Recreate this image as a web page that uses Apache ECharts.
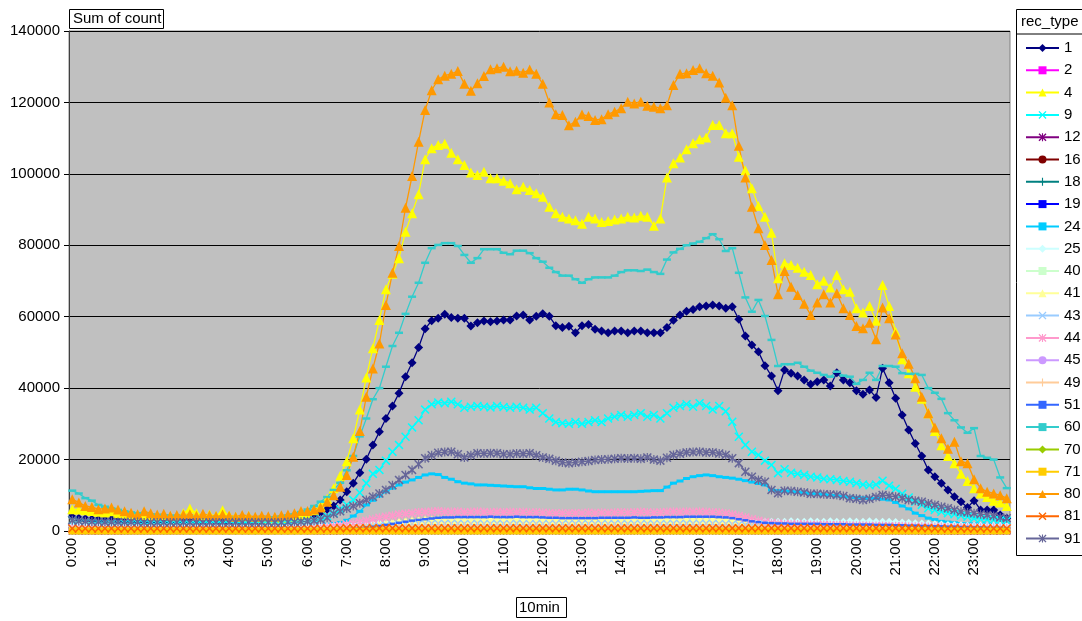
<!DOCTYPE html>
<html>
<head>
<meta charset="utf-8">
<script src="https://cdn.jsdelivr.net/npm/echarts@6/dist/echarts.min.js"></script>
<style>
  html, body { margin: 0; padding: 0; background: #ffffff; }
  #chart { width: 1082px; height: 621px; }
</style>
</head>
<body>
<div id="chart"></div>
<script>
// 10-minute buckets over one day, labelled H:MM
const categories = [];
for (let h = 0; h < 24; h++) {
  for (let m = 0; m < 60; m += 10) categories.push(h + ':' + (m < 10 ? '0' : '') + m);
}

const yTicks = [0, 20000, 40000, 60000, 80000, 100000, 120000, 140000];

const recTypes = ['1','2','4','9','12','16','18','19','24','25','40','41','43','44','45','49','51','60','70','71','80','81','91'];

// Sum of count per rec_type, one row per hour (6 buckets each)
const s1 = [
4000,3600,3400,3300,3200,3200,
3300,3100,3000,3000,2900,2900,
2800,2800,2800,2700,2700,2700,
2700,2600,2600,2600,2600,2500,
2500,2500,2500,2500,2600,2600,
2700,2800,3000,3300,3700,4100,
4500,4500,5100,6100,7000,8700,
11000,13400,16300,20100,24100,27800,
31500,35000,38600,43200,47100,51400,
56600,58900,59600,60700,59800,59600,
59600,57400,58300,58800,58600,58800,
59100,59100,60200,60500,59100,60100,
60800,60100,57500,57000,57300,55500,
57500,57800,56500,56000,55500,56000,
56000,55500,56000,56000,55500,55500,
55500,57000,59000,60500,61500,62000,
62800,63000,63300,63000,62400,62800,
59300,54600,52100,50200,46300,43400,
39300,45100,44200,43400,42300,41100,
41800,42300,40600,44300,42300,41500,
39300,38300,39500,37400,45600,41500,
37200,32500,28300,24500,21000,17100,
15200,13400,11500,9600,8200,6600,
8500,5900,5900,5900,4500,3600];

const s2 = [
100,100,0,0,0,0, 0,0,0,0,0,0, 0,0,0,0,0,0, 0,0,0,0,0,0,
0,0,0,0,0,0, 0,0,0,0,0,0, 0,0,0,100,100,100, 100,100,200,200,200,200,
200,200,200,200,200,200, 200,200,200,200,200,200, 200,200,200,200,200,200, 200,200,200,200,200,200,
200,200,200,200,200,200, 200,200,200,200,200,200, 200,200,200,200,200,200, 200,200,200,200,200,200,
200,200,200,200,200,100, 100,100,100,100,100,100, 100,100,100,100,100,100, 100,100,100,100,100,100,
100,100,100,100,100,100, 100,100,100,100,100,100, 100,100,100,0,0,0, 0,0,0,0,0,0];

const s4 = [
6100,6000,5800,5600,5400,5200,
5500,5000,4800,4600,4500,4400,
4300,4200,4400,4100,4000,5000,
6300,5000,4300,4600,4200,5800,
4300,4000,3900,4200,3800,3700,
3600,3800,3700,4000,4200,4600,
5000,5800,7000,9000,12000,15500,
19500,26000,34000,43000,51200,59100,
67700,72000,76400,83800,89000,94300,
104100,107200,108100,108400,105900,104100,
102500,100400,99700,100600,98800,98800,
98100,97400,95700,96400,95500,94600,
93600,90800,89000,88000,87500,87000,
86000,88000,87500,86500,86800,87200,
87500,88000,87800,88300,88000,85500,
87500,99000,103000,104600,106900,108600,
109700,110200,113700,113700,111400,111400,
104800,101000,96000,91000,88000,83500,
70800,75000,74500,73700,72600,71700,
69100,70100,68200,71700,67700,67000,
62400,61200,63000,58900,68900,63000,
55800,48100,44200,40400,37000,33000,
28000,24000,21000,19000,16000,14000,
12000,10500,9500,8500,8000,7000];

const s9 = [
3000,2800,2600,2500,2400,2400,
2300,2300,2200,2200,2100,2100,
2000,2000,2000,1900,1900,1900,
1900,1800,1800,1800,1800,1800,
1800,1700,1700,1700,1800,1800,
1800,1900,2000,2100,2300,2500,
2800,3100,3500,4200,5000,6100,
7300,8700,10700,13400,16000,17100,
19700,22200,24100,26400,29000,31000,
34000,35500,36000,35800,36200,35500,
34500,34800,35000,34800,34600,35000,
34700,34500,34800,34500,34000,34500,
33000,31500,30500,30200,30000,30500,
30000,30500,31000,30500,31500,32000,
32500,32000,32500,33000,32000,32500,
31500,33000,34500,35000,35500,34800,
35800,35000,34000,35000,33500,30600,
26400,24100,22200,21300,19700,18500,
16200,17300,16300,16000,15700,15200,
15000,14600,14500,14300,14000,13800,
13400,13000,12800,13000,14100,12700,
11800,10400,9400,8200,7300,6400,
5900,5400,5000,4700,4300,4000,
3500,3300,3200,3100,3000,2900];

const s12 = [
0,0,0,0,0,0, 0,0,0,0,0,0, 0,0,0,0,0,0, 0,0,0,0,0,0,
0,0,0,0,0,0, 0,0,0,0,0,0, 0,0,0,0,0,100, 100,100,100,100,100,100,
100,100,100,100,100,100, 100,100,100,100,100,100, 100,100,100,100,100,100, 100,100,100,100,100,100,
100,100,100,100,100,100, 100,100,100,100,100,100, 100,100,100,100,100,100, 100,100,100,100,100,100,
100,100,100,100,100,100, 100,100,100,100,100,100, 100,100,100,100,100,100, 100,100,100,100,100,100,
100,100,100,100,100,100, 100,100,100,100,0,0, 0,0,0,0,0,0, 0,0,0,0,0,0];

const s16 = [
100,100,100,100,100,100, 100,100,100,100,100,100, 100,100,100,100,100,100, 100,100,100,100,100,100,
100,100,100,100,100,100, 100,100,100,100,100,100, 100,100,100,100,100,200, 200,200,200,200,200,200,
300,300,300,300,300,300, 300,300,300,300,300,300, 300,300,300,300,300,300, 300,300,300,300,300,300,
300,300,300,300,300,300, 300,300,300,300,300,300, 300,300,300,300,300,300, 300,300,300,300,300,300,
300,300,300,300,300,300, 300,300,300,300,300,300, 200,200,200,200,200,200, 200,200,200,200,200,200,
200,200,200,200,200,200, 200,200,200,200,200,200, 100,100,100,100,100,100, 100,100,100,100,100,100];

const s18 = [
200,200,200,200,200,200, 200,200,200,200,200,200, 200,200,200,200,200,200, 200,200,200,200,200,200,
200,200,200,200,200,200, 200,200,200,200,200,200, 200,200,200,200,200,300, 300,300,300,300,300,300,
300,300,300,300,300,300, 400,400,400,400,400,400, 400,400,400,400,400,400, 400,400,400,400,400,400,
400,400,400,400,400,400, 400,400,400,400,400,400, 400,400,400,400,400,400, 400,400,400,400,400,400,
400,400,400,400,400,400, 400,400,400,400,400,400, 300,300,300,300,300,300, 300,300,300,300,300,300,
300,300,300,300,300,300, 300,300,300,300,300,300, 200,200,200,200,200,200, 200,200,200,200,200,200];

const s19 = [
200,200,200,200,200,200, 200,200,200,200,200,200, 200,200,200,200,200,200, 200,200,200,200,200,200,
200,200,200,200,200,200, 200,200,200,200,200,200, 200,200,200,200,200,300, 300,300,400,400,400,400,
500,500,500,500,500,500, 500,500,500,500,500,500, 500,500,500,500,500,500, 500,500,500,500,500,500,
500,500,500,500,500,500, 500,500,500,500,500,500, 500,500,500,500,500,500, 500,500,500,500,500,500,
500,500,500,500,500,500, 500,500,500,500,500,400, 400,400,400,400,400,400, 400,400,400,400,400,400,
400,400,400,400,400,400, 300,300,300,300,300,300, 300,300,300,300,300,300, 300,300,300,300,300,200];

const s24 = [
1800,1800,1700,1700,1700,1600,
1600,1600,1600,1500,1500,1500,
1500,1500,1500,1400,1400,1400,
1400,1400,1400,1400,1400,1400,
1400,1400,1400,1400,1400,1400,
1400,1400,1400,1400,1500,1500,
1500,1600,1700,1900,2100,2400,
3000,4200,5500,7300,8600,9800,
11000,12000,12900,13700,14300,15000,
15700,16000,15800,15000,14500,13800,
13400,13200,12900,12900,12800,12700,
12600,12500,12400,12400,12100,11900,
11900,11700,11500,11500,11700,11700,
11500,11200,11000,11000,11000,11000,
11000,11000,11000,11100,11200,11300,
11300,12300,13400,14000,14700,15200,
15500,15700,15500,15200,15000,14800,
14500,14100,13700,13300,12900,11500,
11300,11200,11000,10900,10700,10500,
10400,10200,10000,9800,9600,9500,
9400,9300,9200,9100,8900,8700,
8000,7000,6200,5000,4300,3600,
3200,2700,2500,2300,2100,2000,
2000,1900,1900,1800,1800,1700];

const s25 = [
1400,1400,1400,1400,1300,1300, 1300,1300,1300,1300,1300,1300, 1300,1200,1200,1200,1200,1200, 1200,1200,1200,1200,1200,1200,
1200,1200,1200,1200,1200,1200, 1200,1200,1200,1200,1200,1200, 1200,1200,1300,1300,1400,1500, 1600,1700,1800,1900,2000,2100,
2200,2200,2300,2300,2400,2400, 2400,2400,2500,2400,2400,2500, 2400,2400,2500,2400,2400,2500, 2400,2400,2500,2400,2400,2500,
2400,2400,2400,2400,2400,2400, 2400,2400,2400,2400,2400,2400, 2400,2400,2500,2400,2400,2500, 2500,2500,2500,2500,2500,2500,
2500,2500,2500,2500,2500,2500, 2500,2500,2500,2600,2600,2600, 2600,2600,2700,2600,2600,2700, 2600,2600,2700,2600,2600,2700,
2600,2600,2700,2600,2600,2600, 2500,2400,2300,2200,2100,2000, 1900,1800,1700,1600,1600,1500, 1500,1500,1400,1400,1400,1400];

const s40 = [
100,100,100,100,100,100, 100,100,100,100,100,100, 100,100,100,100,100,100, 100,100,100,100,100,100,
100,100,100,100,100,100, 100,100,100,100,100,100, 100,100,100,200,200,200, 300,300,400,400,500,500,
600,600,700,700,800,800, 800,800,800,800,800,800, 800,800,800,800,800,800, 800,800,800,800,800,800,
800,800,800,800,800,800, 800,800,800,800,800,800, 800,800,800,800,800,800, 800,800,800,800,800,800,
800,800,800,800,800,800, 700,700,700,600,600,600, 500,500,500,500,500,500, 500,500,500,500,500,500,
500,500,500,500,500,500, 400,400,400,400,400,400, 300,300,300,300,300,300, 200,200,200,200,200,200];

const s41 = [
500,450,450,400,400,400, 400,400,400,350,350,350, 350,350,350,350,350,350, 300,300,300,300,300,300,
300,300,300,300,300,300, 300,300,300,300,300,300, 300,350,400,450,500,600, 700,900,1100,1300,1600,1900,
2200,2400,2600,2800,3000,3100, 3200,3200,3300,3200,3200,3300, 3200,3200,3300,3200,3200,3300, 3200,3200,3300,3200,3200,3200,
3100,3100,3100,3100,3100,3100, 3100,3100,3100,3100,3100,3100, 3100,3100,3200,3100,3100,3200, 3200,3200,3200,3200,3300,3300,
3300,3300,3300,3200,3200,3100, 2900,2600,2300,2000,1700,1500, 1400,1300,1300,1200,1200,1200, 1100,1100,1100,1100,1100,1000,
1000,1000,1000,1000,900,900, 900,900,900,800,800,800, 800,800,700,700,700,700, 700,700,600,600,600,600];

const s43 = [
600,600,600,600,550,550, 550,550,550,500,500,500, 500,500,500,500,500,500, 500,500,500,500,500,500,
500,500,500,500,500,500, 500,500,500,500,500,500, 500,500,600,600,700,800, 900,1000,1100,1300,1400,1500,
1600,1700,1800,1900,2000,2000, 2000,2100,2100,2100,2100,2100, 2000,2000,2100,2000,2000,2100, 2000,2000,2100,2000,2000,2000,
2000,2000,2000,2000,2000,2000, 2000,2000,2000,2000,2000,2000, 2000,2000,2000,2000,2000,2000, 2000,2000,2100,2100,2100,2100,
2100,2100,2100,2000,2000,1900, 1800,1700,1600,1500,1500,1400, 1400,1400,1400,1400,1300,1300, 1300,1300,1300,1300,1300,1300,
1300,1300,1200,1200,1200,1200, 1200,1100,1100,1100,1000,1000, 1000,900,900,900,800,800, 800,800,700,700,700,700];

const s44 = [
900,850,800,750,700,700,
650,650,600,600,600,550,
550,550,500,500,500,500,
500,500,450,450,450,450,
450,450,450,450,500,500,
500,550,550,600,650,700,
750,850,950,1100,1300,1500,
1800,2100,2500,2900,3300,3700,
4000,4300,4600,4800,5000,5200,
5300,5400,5500,5400,5300,5400,
5200,5300,5400,5300,5200,5300,
5200,5300,5200,5300,5100,5200,
5100,5000,4900,5000,4900,5000,
5000,5100,5000,5100,5000,5100,
5200,5100,5200,5300,5200,5100,
5200,5300,5400,5300,5400,5300,
5400,5300,5200,5100,4900,4600,
4200,3800,3300,2900,2500,2200,
2000,1900,1900,1800,1800,1700,
1700,1700,1600,1600,1600,1500,
1500,1500,1400,1400,1400,1300,
1300,1300,1200,1200,1200,1100,
1100,1100,1000,1000,1000,950,
950,900,900,900,850,850];

const s45 = [
0,0,0,0,0,0, 0,0,0,0,0,0, 0,0,0,0,0,0, 0,0,0,0,0,0,
0,0,0,0,0,0, 0,0,0,0,0,0, 0,0,0,0,0,0, 0,0,0,100,100,100,
100,100,100,100,100,100, 100,100,100,100,100,100, 100,100,100,100,100,100, 100,100,100,100,100,100,
100,100,100,100,100,100, 100,100,100,100,100,100, 100,100,100,100,100,100, 100,100,100,100,100,100,
100,100,100,100,100,100, 100,100,100,100,100,100, 0,0,0,0,0,0, 0,0,0,0,0,0,
0,0,0,0,0,0, 0,0,0,0,0,0, 0,0,0,0,0,0, 0,0,0,0,0,0];

const s49 = [
200,200,200,200,200,200, 200,200,200,200,200,200, 200,200,200,200,200,200, 200,200,200,200,200,200,
200,200,200,200,200,200, 200,200,200,200,200,200, 200,200,300,300,400,400, 500,600,700,800,900,1000,
1100,1200,1300,1400,1400,1500, 1500,1500,1500,1500,1500,1500, 1500,1500,1500,1500,1500,1500, 1500,1500,1500,1500,1500,1500,
1500,1500,1500,1500,1500,1500, 1500,1500,1500,1500,1500,1500, 1500,1500,1500,1500,1500,1500, 1500,1500,1500,1500,1500,1500,
1500,1500,1500,1500,1400,1400, 1300,1200,1100,1000,1000,900, 900,900,900,900,800,800, 800,800,800,800,800,800,
800,800,700,700,700,700, 700,600,600,600,600,500, 500,500,500,400,400,400, 400,400,300,300,300,300];

const s51 = [
400,400,350,350,300,300, 300,300,300,300,300,300, 300,300,300,300,250,250, 250,250,250,250,250,250,
250,250,250,250,250,250, 250,250,250,250,300,300, 300,300,350,400,450,500, 600,700,800,1000,1200,1400,
1700,2000,2300,2600,2900,3100, 3300,3500,3700,3800,3800,3900, 3900,3900,3900,3900,4000,3900, 3900,3900,4000,3900,3900,3900,
3800,3700,3700,3600,3600,3600, 3600,3600,3600,3700,3700,3700, 3700,3700,3800,3700,3700,3800, 3800,3900,3900,3900,4000,4000,
4000,4000,4000,3900,3800,3600, 3300,3000,2700,2500,2300,2200, 2100,2100,2000,2000,2000,2000, 2000,1900,1900,1900,1900,1800,
1800,1800,1800,1700,1700,1700, 1600,1600,1500,1500,1400,1400, 1300,1300,1200,1200,1100,1100, 1000,1000,900,900,900,800];

const s60 = [
11300,10500,9200,8500,7300,6800,
6300,5900,5500,5200,5000,4800,
4600,4500,4400,4300,4200,4100,
4000,3900,3900,3800,3800,3700,
3700,3600,3600,3500,3500,3600,
3700,3800,4000,4300,4700,5300,
6000,7000,8200,9500,11500,13500,
17000,21000,26500,31500,36900,40000,
46000,51800,55500,60800,65600,69500,
75100,79200,80100,80600,80600,79800,
77300,75100,76400,78900,78900,78900,
77900,77500,78500,78500,77800,76400,
75400,73700,72500,71500,71500,70500,
69500,70500,71000,71000,71000,71500,
72500,73000,73000,72800,73200,72500,
72000,76000,78000,79000,80000,80500,
81000,82000,83100,81700,78400,79200,
72300,65400,61400,64700,60200,53500,
46200,46700,46700,47100,46000,44900,
44300,43700,43200,44600,43500,43200,
41200,42300,44300,42300,46200,46200,
46000,44200,44000,44000,43700,40000,
38700,37000,33000,31000,29000,27500,
28800,21000,20500,20000,15000,12000];

const s70 = [
0,0,0,0,0,0, 0,0,0,0,0,0, 0,0,0,0,0,0, 0,0,0,0,0,0,
0,0,0,0,0,0, 0,0,0,0,0,0, 0,0,0,0,0,0, 0,0,0,0,0,0,
0,0,0,0,0,0, 0,0,0,0,0,0, 0,0,0,0,0,0, 0,0,0,0,0,0,
0,0,0,0,0,0, 0,0,0,0,0,0, 0,0,0,0,0,0, 0,0,0,0,0,0,
0,0,0,0,0,0, 0,0,0,0,0,0, 0,0,0,0,0,0, 0,0,0,0,0,0,
0,0,0,0,0,0, 0,0,0,0,0,0, 0,0,0,0,0,0, 0,0,0,0,0,0];

const s71 = [
0,0,0,0,0,0, 0,0,0,0,0,0, 0,0,0,0,0,0, 0,0,0,0,0,0,
0,0,0,0,0,0, 0,0,0,0,0,0, 0,0,0,0,0,0, 0,0,0,0,0,0,
0,0,0,0,0,0, 0,0,0,0,0,0, 0,0,0,0,0,0, 0,0,0,0,0,0,
0,0,0,0,0,0, 0,0,0,0,0,0, 0,0,0,0,0,0, 0,0,0,0,0,0,
0,0,0,0,0,0, 0,0,0,0,0,0, 0,0,0,0,0,0, 0,0,0,0,0,0,
0,0,0,0,0,0, 0,0,0,0,0,0, 0,0,0,0,0,0, 0,0,0,0,0,0];

const s80 = [
8900,8000,7000,6700,6100,6300,
6600,6000,5500,5100,4700,5500,
5000,4600,4800,4300,4500,4600,
4700,4300,4800,4400,4200,4600,
4300,4000,4500,4200,4000,4300,
4100,4000,4400,4600,5000,5600,
5600,6000,6600,8200,10000,12400,
15700,20800,28000,37600,45500,52500,
63300,72300,79800,90500,99400,109000,
117900,123400,126500,127500,128000,128800,
125200,123300,125400,127400,129300,129600,
130000,128700,128900,128300,129200,128000,
125200,120000,116700,116500,113600,114600,
116600,116200,115100,115300,116700,117400,
118400,120200,119700,120200,119100,118800,
118400,119200,124900,128000,128200,129100,
129600,128200,127500,125600,121300,119200,
107900,99000,90800,84800,80100,75900,
66300,72800,68400,66100,63600,60500,
64000,66300,64000,66600,62400,60500,
57400,56800,58300,53700,62600,59600,
55000,49800,46800,42800,37600,33000,
29000,26000,23000,25000,19500,19000,
14500,12000,11000,10500,10000,9200];

const s81 = [
700,700,700,700,700,700, 700,700,700,700,700,700, 700,700,700,700,700,700, 700,700,700,700,700,700,
700,700,700,700,700,700, 700,700,700,700,700,700, 700,700,700,700,700,800, 800,800,800,800,800,800,
800,800,800,800,800,800, 800,800,800,800,800,800, 800,800,800,800,800,800, 800,800,800,800,800,800,
800,800,800,800,800,800, 800,800,800,800,800,800, 800,800,800,800,800,800, 800,800,800,800,800,800,
800,800,800,800,800,800, 800,800,800,800,800,800, 800,800,800,800,800,800, 800,800,800,800,800,800,
800,800,800,800,800,800, 800,800,800,800,800,800, 700,700,700,700,700,700, 700,700,700,700,700,700];

const s91 = [
3000,2800,2700,2600,2600,2500,
2500,2500,2500,2500,2500,2400,
2400,2400,2400,2400,2400,2400,
2400,2400,2400,2400,2400,2400,
2400,2400,2400,2400,2400,2400,
2400,2400,2400,2500,2500,2600,
2700,2900,3200,3700,4800,5500,
6300,7000,7800,8700,9600,10500,
11500,12800,14300,15700,17100,18700,
20400,21200,21900,22100,22200,21500,
20600,21200,21800,21700,21800,21800,
21500,21500,21700,21600,21800,21200,
20600,20200,19700,19200,19000,19200,
19400,19600,19900,20000,20100,20200,
20400,20300,20400,20200,20600,20000,
19700,20500,21300,21600,22000,22100,
22200,22000,22000,21700,21300,20400,
19000,16600,15200,14300,13800,11500,
10600,11300,11200,11000,10800,10400,
10400,10300,10200,10100,9800,9200,
9000,8700,9000,9500,10100,9800,
9600,9200,8700,8500,8200,7700,
7300,6800,6400,5900,5400,5200,
5000,4700,4500,4200,3800,3600];

const seriesValues = [s1, s2, s4, s9, s12, s16, s18, s19, s24, s25, s40, s41, s43, s44, s45, s49, s51, s60, s70, s71, s80, s81, s91];

const colors = ['#000080','#FF00FF','#FFFF00','#00FFFF','#800080','#800000','#008080','#0000FF','#00CCFF','#CCFFFF','#CCFFCC','#FFFF99','#99CCFF','#FF99CC','#CC99FF','#FFCC99','#3366FF','#33CCCC','#99CC00','#FFCC00','#FF9900','#FF6600','#666699'];

// marker shapes
const X_MARK = 'path://M0,1.2L1.2,0L5,3.8L8.8,0L10,1.2L6.2,5L10,8.8L8.8,10L5,6.2L1.2,10L0,8.8L3.8,5Z';
const PLUS_MARK = 'path://M4.3,0L5.7,0L5.7,4.3L10,4.3L10,5.7L5.7,5.7L5.7,10L4.3,10L4.3,5.7L0,5.7L0,4.3L4.3,4.3Z';
const STAR_MARK = 'path://M0,1.2L1.2,0L5,3.8L8.8,0L10,1.2L6.2,5L10,8.8L8.8,10L5,6.2L1.2,10L0,8.8L3.8,5Z M4.3,0L5.7,0L5.7,10L4.3,10Z';

const markers = [
  ['diamond', 9], ['rect', 7], ['triangle', 10], [X_MARK, 9], [STAR_MARK, 8], ['circle', 7],
  [PLUS_MARK, 8], ['rect', [4, 2]], ['rect', [7, 3]], ['diamond', 8], ['rect', 7], ['triangle', 9],
  [X_MARK, 8], [STAR_MARK, 9], ['circle', 8], [PLUS_MARK, 8], ['rect', [6, 2.5]], ['rect', [8, 2.5]],
  ['diamond', 8], ['rect', 7], ['triangle', 10], [X_MARK, 9], [STAR_MARK, 9]
];

const FONT = 'Liberation Sans, Arial, sans-serif';

const series = recTypes.map((name, k) => ({
  name: name,
  type: 'line',
  data: seriesValues[k],
  symbol: markers[k][0],
  symbolSize: markers[k][1],
  showAllSymbol: true,
  lineStyle: { color: colors[k], width: 1.3 },
  itemStyle: { color: colors[k] },
  emphasis: { disabled: true }
}));

const chart = echarts.init(document.getElementById('chart'), null, { renderer: 'canvas' });

chart.setOption({
  animation: false,
  backgroundColor: '#ffffff',
  color: colors,
  textStyle: { fontFamily: FONT },
  grid: {
    left: 69, top: 31, width: 941, height: 500,
    show: true, backgroundColor: '#C0C0C0', borderColor: '#808080', borderWidth: 1
  },
  xAxis: {
    type: 'category',
    data: categories,
    boundaryGap: true,
    axisLine: { lineStyle: { color: '#000000', width: 1 } },
    axisTick: { show: true, interval: 0, length: 3, lineStyle: { color: '#404040' } },
    axisLabel: {
      interval: 5, rotate: 90, fontSize: 15, color: '#000000', margin: 7, fontFamily: FONT
    },
    splitLine: { show: false }
  },
  yAxis: {
    type: 'value',
    min: yTicks[0],
    max: yTicks[yTicks.length - 1],
    interval: yTicks[1] - yTicks[0],
    axisLine: { show: true, lineStyle: { color: '#404040', width: 1 } },
    axisTick: { show: true, length: 5, lineStyle: { color: '#000000' } },
    axisLabel: {
      fontSize: 15, color: '#000000', margin: 9, fontFamily: FONT,
      formatter: function (v) { return String(v); }
    },
    splitLine: { show: true, lineStyle: { color: '#000000', width: 1 } }
  },
  legend: {
    orient: 'vertical',
    left: 1025,
    top: 40,
    padding: 0,
    itemWidth: 33,
    itemHeight: 10,
    itemGap: 6.3,
    textStyle: { fontSize: 15, lineHeight: 16, color: '#000000', fontFamily: FONT },
    data: recTypes
  },
  graphic: [
    { type: 'rect', left: 69, top: 9, shape: { width: 94, height: 19 },
      style: { fill: '#ffffff', stroke: '#000000', lineWidth: 1 }, z: 10 },
    { type: 'text', left: 73, top: 11,
      style: { text: 'Sum of count', font: '15px ' + FONT, fill: '#000000' }, z: 11 },
    { type: 'rect', left: 516, top: 597, shape: { width: 50, height: 20 },
      style: { fill: '#ffffff', stroke: '#000000', lineWidth: 1 }, z: 10 },
    { type: 'text', left: 519, top: 600,
      style: { text: '10min', font: '15px ' + FONT, fill: '#000000' }, z: 11 },
    { type: 'rect', left: 1016, top: 9, shape: { width: 80, height: 546 },
      style: { fill: '#ffffff', stroke: '#000000', lineWidth: 1 }, z: -1 },
    { type: 'line', shape: { x1: 1016, y1: 34, x2: 1082, y2: 34 },
      style: { stroke: '#000000', lineWidth: 1 }, z: 10 },
    { type: 'text', left: 1021, top: 14,
      style: { text: 'rec_type', font: '15px ' + FONT, fill: '#000000' }, z: 11 }
  ],
  series: series
});
</script>
</body>
</html>
